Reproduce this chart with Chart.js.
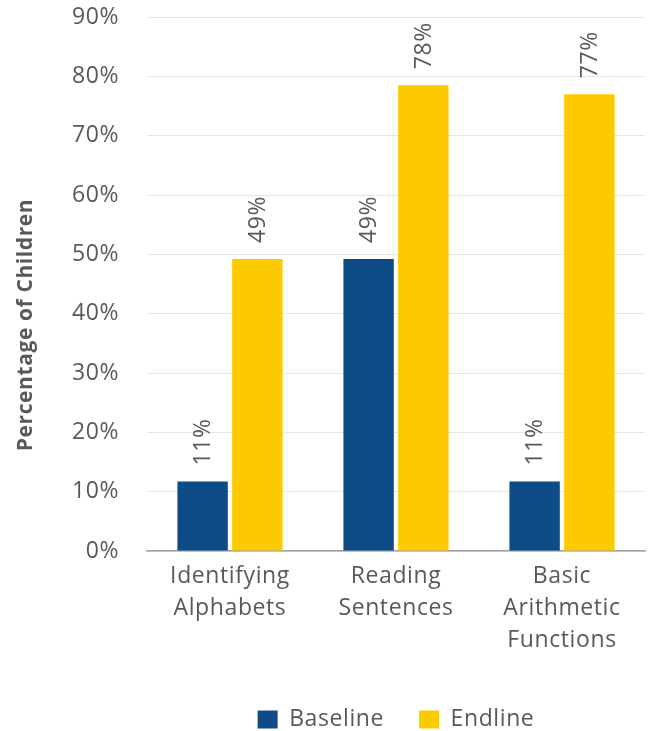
<!DOCTYPE html>
<html>
<head>
<meta charset="utf-8">
<script src="https://cdn.jsdelivr.net/npm/chart.js@4"></script>
<style>
  html, body { margin: 0; padding: 0; background: #fff; }
  #wrap { width: 655px; height: 731px; }
</style>
</head>
<body>
<div id="wrap"><canvas id="chart" width="655" height="731"></canvas></div>
<script>
// Chart data
const categories = [['Identifying', 'Alphabets'], ['Reading', 'Sentences'], ['Basic', 'Arithmetic', 'Functions']];
const baselineValues = [11.7, 49.2, 11.7];
const endlineValues = [49.2, 78.5, 77];
const baselineLabels = ['11%', '49%', '11%'];
const endlineLabels = ['49%', '78%', '77%'];
const yTicks = [0, 10, 20, 30, 40, 50, 60, 70, 80, 90];

const FONT = '"Open Sans", "Noto Sans", sans-serif';
const TEXT = '#595959';
const SPACING = '0.6px';

// the original font is a bit wider, so add some letter spacing
const spacing = {
    id: 'spacing',
    beforeLayout(chart) { chart.ctx.letterSpacing = SPACING; },
    beforeDraw(chart) { chart.ctx.letterSpacing = SPACING; }
};

// legend sits lower than chart.js puts it: trim the empty space under it
const legendTrim = {
    id: 'legendTrim',
    afterInit(chart) {
        const lg = chart.legend;
        if (!lg) return;
        const fit = lg.fit.bind(lg);
        lg.fit = function () {
            fit();
            this.height -= 10;
        };
    }
};

// rotated value labels above each bar
const barLabels = {
    id: 'barLabels',
    afterDatasetsDraw(chart) {
        const ctx = chart.ctx;
        const texts = [baselineLabels, endlineLabels];
        ctx.save();
        ctx.font = '23px ' + FONT;
        ctx.fillStyle = TEXT;
        ctx.textAlign = 'left';
        ctx.textBaseline = 'middle';
        chart.data.datasets.forEach((ds, i) => {
            chart.getDatasetMeta(i).data.forEach((bar, j) => {
                ctx.save();
                ctx.translate(bar.x + 1, bar.y - 16);
                ctx.rotate(-Math.PI / 2);
                ctx.fillText(texts[i][j], 0, 0);
                ctx.restore();
            });
        });
        ctx.restore();
    }
};

// y axis title, sits a bit below the middle like the original
const yTitle = {
    id: 'yTitle',
    afterDraw(chart) {
        const ctx = chart.ctx;
        const area = chart.chartArea;
        ctx.save();
        ctx.font = 'bold 21px ' + FONT;
        ctx.fillStyle = TEXT;
        ctx.textAlign = 'center';
        ctx.textBaseline = 'middle';
        ctx.translate(26, (area.top + area.bottom) / 2 + 41);
        ctx.rotate(-Math.PI / 2);
        ctx.fillText('Percentage of Children', 0, 0);
        ctx.restore();
    }
};

new Chart(document.getElementById('chart'), {
    type: 'bar',
    data: {
        labels: categories,
        datasets: [
            { label: 'Baseline', data: baselineValues, backgroundColor: '#0e4c87' },
            { label: 'Endline', data: endlineValues, backgroundColor: '#fdca00' }
        ]
    },
    options: {
        responsive: false,
        animation: false,
        categoryPercentage: 0.66,
        barPercentage: 0.92,
        layout: { padding: { left: 0, right: 10, top: 0, bottom: 0 } },
        plugins: {
            legend: {
                position: 'bottom',
                fullSize: false,
                labels: {
                    boxWidth: 20,
                    boxHeight: 18,
                    padding: 35,
                    color: TEXT,
                    font: { family: FONT, size: 23 }
                }
            },
            tooltip: { enabled: false }
        },
        scales: {
            x: {
                afterFit(scale) { scale.height = 122; },
                grid: { display: false, drawTicks: false },
                border: { color: '#a0a0a0', width: 1.5 },
                ticks: {
                    color: TEXT,
                    padding: 9,
                    font: { family: FONT, size: 23, lineHeight: 1.4 },
                    maxRotation: 0
                }
            },
            y: {
                min: 0,
                max: 90,
                afterFit(scale) {
                    scale.width = 147;
                    scale.paddingTop = 17;
                    scale.paddingBottom = 0;
                },
                afterBuildTicks(scale) { scale.ticks = yTicks.map(v => ({ value: v })); },
                grid: { color: '#e6e6e6', lineWidth: 1, drawTicks: false },
                border: { display: false },
                ticks: {
                    color: TEXT,
                    padding: 28,
                    font: { family: FONT, size: 23 },
                    callback: v => v + '%'
                }
            }
        }
    },
    plugins: [spacing, legendTrim, barLabels, yTitle]
});
</script>
</body>
</html>
